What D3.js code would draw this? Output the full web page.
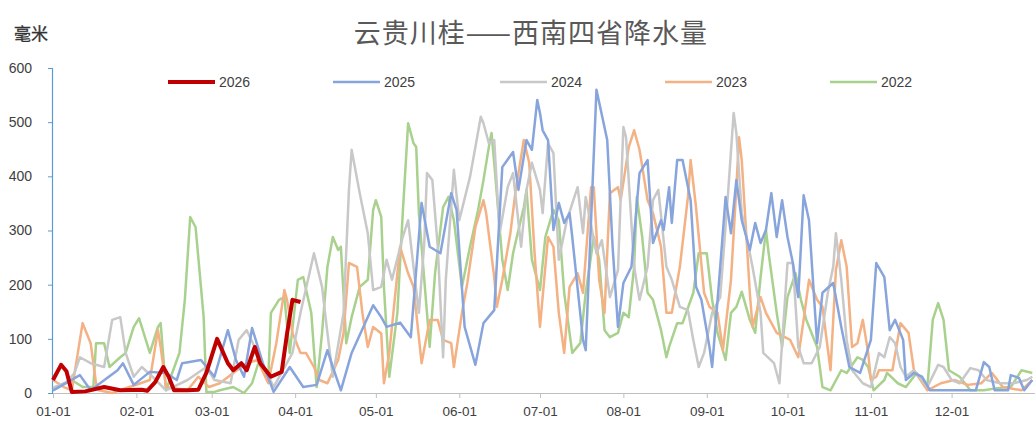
<!DOCTYPE html>
<html><head><meta charset="utf-8">
<script src="https://cdn.jsdelivr.net/npm/d3@7"></script>
<style>
html,body{margin:0;padding:0;background:#fff;}
svg{display:block;font-family:"Noto Sans CJK SC","Noto Sans",sans-serif;}
</style></head>
<body><svg id="c" width="1035" height="429"></svg>
<script>
// day-of-year (0 = Jan 1), precipitation in mm
const rain2026 = [[0,24],[3,52],[5,40],[7,2],[12,3],[19,11],[25,5],[33,6],[35,4],[38,20],[41,48],[43,30],[45,5],[50,5],[54,6],[57,37],[61,100],[65,55],[67,42],[70,55],[72,42],[75,85],[77,55],[81,30],[85,39],[87,110],[89,172],[92,168]];
const rain2025 = [[0,5],[10,33],[14,5],[24,42],[26,55],[30,15],[36,39],[42,37],[46,24],[48,55],[55,61],[60,30],[65,116],[68,61],[71,30],[74,120],[78,55],[82,2],[88,48],[93,11],[98,15],[102,79],[104,48],[107,5],[111,74],[119,162],[122,140],[124,122],[129,130],[133,103],[137,351],[140,270],[144,258],[148,369],[150,338],[153,122],[157,52],[160,129],[164,153],[167,417],[171,445],[173,375],[176,467],[178,449],[180,541],[181,517],[182,485],[184,467],[186,301],[188,351],[190,314],[192,332],[193,288],[197,98],[198,79],[202,560],[206,467],[208,270],[210,122],[212,203],[215,233],[218,406],[221,430],[223,277],[226,319],[227,301],[229,380],[230,314],[232,430],[234,430],[237,356],[239,196],[241,172],[244,85],[245,48],[248,233],[250,362],[252,295],[254,393],[256,319],[259,264],[261,314],[263,277],[265,301],[267,369],[269,288],[271,356],[273,288],[275,240],[277,177],[279,365],[281,319],[284,92],[286,185],[290,203],[293,122],[296,48],[300,37],[304,98],[306,240],[309,214],[311,116],[313,135],[316,98],[317,24],[320,37],[323,30],[326,5],[343,5],[346,57],[348,48],[350,5],[355,5],[356,33],[359,28],[361,5],[364,24]];
const rain2024 = [[0,10],[5,20],[8,37],[10,66],[14,55],[19,48],[22,135],[25,140],[27,74],[30,30],[33,48],[37,30],[42,5],[50,24],[57,48],[60,24],[66,18],[69,98],[72,116],[76,74],[82,11],[89,74],[92,148],[97,258],[100,196],[102,111],[104,30],[108,148],[110,375],[111,449],[114,369],[117,295],[119,190],[122,196],[124,246],[126,209],[130,288],[132,319],[134,233],[136,148],[138,277],[139,406],[141,393],[143,270],[145,66],[146,209],[149,412],[151,319],[155,399],[157,454],[159,510],[160,498],[162,461],[164,467],[166,295],[169,380],[171,406],[174,270],[176,375],[178,425],[181,375],[182,332],[184,461],[186,443],[188,246],[191,319],[195,380],[197,295],[198,362],[202,258],[204,282],[207,177],[210,227],[212,491],[213,472],[216,233],[218,172],[221,233],[223,356],[225,375],[228,233],[230,209],[233,159],[236,153],[238,98],[240,48],[242,74],[245,148],[248,177],[251,375],[253,517],[254,480],[256,332],[259,258],[260,233],[263,148],[264,74],[268,55],[270,18],[273,240],[275,240],[277,85],[279,55],[282,55],[285,85],[288,185],[290,233],[291,295],[293,209],[295,98],[297,42],[301,18],[304,11],[307,74],[309,66],[311,103],[313,92],[315,48],[317,30],[320,42],[325,11],[329,52],[331,48],[334,24],[337,18],[341,46],[344,42],[347,24],[352,18],[357,18],[362,24],[364,30]];
const rain2023 = [[0,24],[4,11],[7,5],[11,129],[14,92],[16,18],[17,5],[22,0],[36,24],[39,116],[40,85],[42,11],[50,5],[54,30],[58,11],[62,18],[67,37],[72,55],[76,61],[80,18],[83,92],[86,190],[87,172],[89,111],[92,74],[94,74],[97,48],[99,24],[102,18],[106,61],[108,111],[110,240],[113,233],[115,148],[117,85],[119,122],[122,110],[123,18],[125,74],[129,270],[132,221],[134,196],[137,55],[140,135],[143,135],[145,98],[148,92],[149,48],[152,148],[154,203],[157,306],[160,356],[161,332],[164,214],[165,159],[167,209],[170,295],[172,375],[175,467],[177,425],[179,258],[181,122],[184,288],[186,270],[188,148],[190,74],[192,196],[195,221],[197,185],[200,380],[201,380],[203,209],[205,148],[207,369],[210,380],[211,356],[214,454],[216,485],[218,449],[221,356],[223,332],[226,270],[228,148],[230,148],[233,233],[236,362],[237,430],[239,343],[242,185],[244,159],[247,148],[249,79],[252,209],[254,380],[255,472],[256,430],[259,185],[260,122],[263,177],[265,148],[269,111],[274,98],[277,66],[279,135],[281,209],[284,172],[286,159],[289,42],[291,227],[293,282],[295,233],[297,85],[299,92],[301,135],[303,74],[304,24],[306,30],[307,42],[312,42],[315,129],[318,111],[320,42],[325,5],[330,18],[335,24],[340,15],[345,18],[349,37],[353,11],[360,5],[364,24]];
const rain2022 = [[0,5],[7,24],[11,11],[15,11],[16,92],[19,92],[21,48],[25,66],[27,74],[30,122],[32,138],[33,122],[36,74],[39,122],[40,129],[42,5],[47,74],[49,172],[51,325],[53,306],[56,140],[57,2],[60,2],[62,5],[67,11],[71,0],[74,18],[77,66],[80,24],[81,148],[84,172],[86,177],[88,74],[91,209],[93,214],[96,148],[98,11],[100,111],[102,233],[104,288],[106,264],[107,270],[109,92],[111,140],[114,196],[117,209],[119,338],[120,356],[122,325],[123,196],[125,30],[128,148],[130,332],[132,498],[134,461],[135,454],[136,332],[139,148],[140,85],[142,221],[145,343],[147,362],[149,319],[152,196],[155,270],[158,338],[160,393],[162,454],[163,480],[164,425],[167,246],[169,190],[171,258],[173,301],[175,343],[176,375],[178,246],[181,190],[183,288],[186,338],[188,319],[190,185],[193,74],[196,92],[198,185],[201,288],[203,246],[205,116],[207,103],[210,111],[212,148],[214,140],[216,233],[217,362],[219,288],[221,185],[223,172],[226,116],[228,66],[229,85],[232,129],[234,129],[238,185],[240,258],[243,258],[245,172],[247,111],[250,61],[252,148],[254,159],[256,187],[259,135],[261,111],[263,214],[265,301],[266,258],[269,148],[271,85],[273,177],[276,221],[278,172],[280,135],[284,85],[286,11],[289,5],[293,42],[295,37],[299,66],[301,61],[303,48],[305,5],[309,24],[310,37],[314,18],[317,11],[321,37],[325,11],[327,135],[329,166],[331,135],[333,42],[337,30],[341,5],[346,5],[351,9],[356,11],[360,42],[364,37]];

const years = ["2026","2025","2024","2023","2022"];
const seriesData = [rain2026, rain2025, rain2024, rain2023, rain2022];
const colors = ["#C00000","#87A5DC","#C8C8C8","#F4B183","#A9D18E"];
const widths = [4,2.5,2.5,2.5,2.5];
const yTicks = [0,100,200,300,400,500,600];
const monthLabels = ["01-01","02-01","03-01","04-01","05-01","06-01","07-01","08-01","09-01","10-01","11-01","12-01"];
const titleText = "云贵川桂——西南四省降水量";
const unitText = "毫米";

const svg = d3.select("#c");
const start = new Date(2025,0,1), end = new Date(2026,0,1);
const x = d3.scaleTime().domain([start,end]).range([53,1035]);
const y = d3.scaleLinear().domain([0,600]).range([393,68]);
const toDate = d => new Date(start.getTime() + d*86400000);

// title & unit
svg.append("text").attr("x",531).attr("y",43).attr("text-anchor","middle")
  .attr("font-size",27).attr("fill","#595959").attr("letter-spacing",1).text(titleText);
svg.append("text").attr("x",14).attr("y",40).attr("font-size",17)
  .attr("fill","#333333").attr("stroke","#333333").attr("stroke-width",0.3).text(unitText);

// y axis
const yAxis = svg.append("g").attr("transform","translate(52,0)")
  .call(d3.axisLeft(y).tickValues(yTicks).tickSize(4).tickFormat(d3.format("d")));
yAxis.select(".domain").attr("stroke","#5B9BD5").attr("stroke-width",1.2);
yAxis.selectAll(".tick line").attr("stroke","#5B9BD5");
yAxis.selectAll("text").attr("font-size",14).attr("fill","#404040").attr("x",-20)
  .attr("font-family","Liberation Sans, Arial, sans-serif");

// x axis
const monthDates = d3.range(12).map(m => new Date(2025,m,1));
const xAxis = svg.append("g").attr("transform","translate(0,393)")
  .call(d3.axisBottom(x).tickValues(monthDates).tickSize(5).tickSizeOuter(0)
    .tickFormat((d,i) => monthLabels[i]));
xAxis.select(".domain").attr("stroke","#BFBFBF").attr("stroke-width",1.2);
xAxis.selectAll(".tick line").attr("stroke","#BFBFBF");
xAxis.selectAll("text").attr("font-size",13.5).attr("fill","#404040").attr("dy","1.1em")
  .attr("font-family","Liberation Sans, Arial, sans-serif");

// lines
const line = d3.line().x(d => x(toDate(d[0]))).y(d => y(d[1])).curve(d3.curveLinear);
const order = [4,3,2,1,0];
order.forEach(i => {
  svg.append("path").datum(seriesData[i]).attr("d",line).attr("fill","none")
    .attr("stroke",colors[i]).attr("stroke-width",widths[i]).attr("stroke-linejoin","round");
});

// legend
const legX = [168,333,500,665,830];
years.forEach((yr,i) => {
  const g = svg.append("g").attr("transform",`translate(${legX[i]},82)`);
  g.append("line").attr("x1",0).attr("x2",47).attr("stroke",colors[i]).attr("stroke-width",widths[i]);
  g.append("text").attr("x",51).attr("y",5).attr("font-size",14).attr("fill","#404040")
    .attr("font-family","Liberation Sans, Arial, sans-serif").text(yr);
});
</script></body></html>
